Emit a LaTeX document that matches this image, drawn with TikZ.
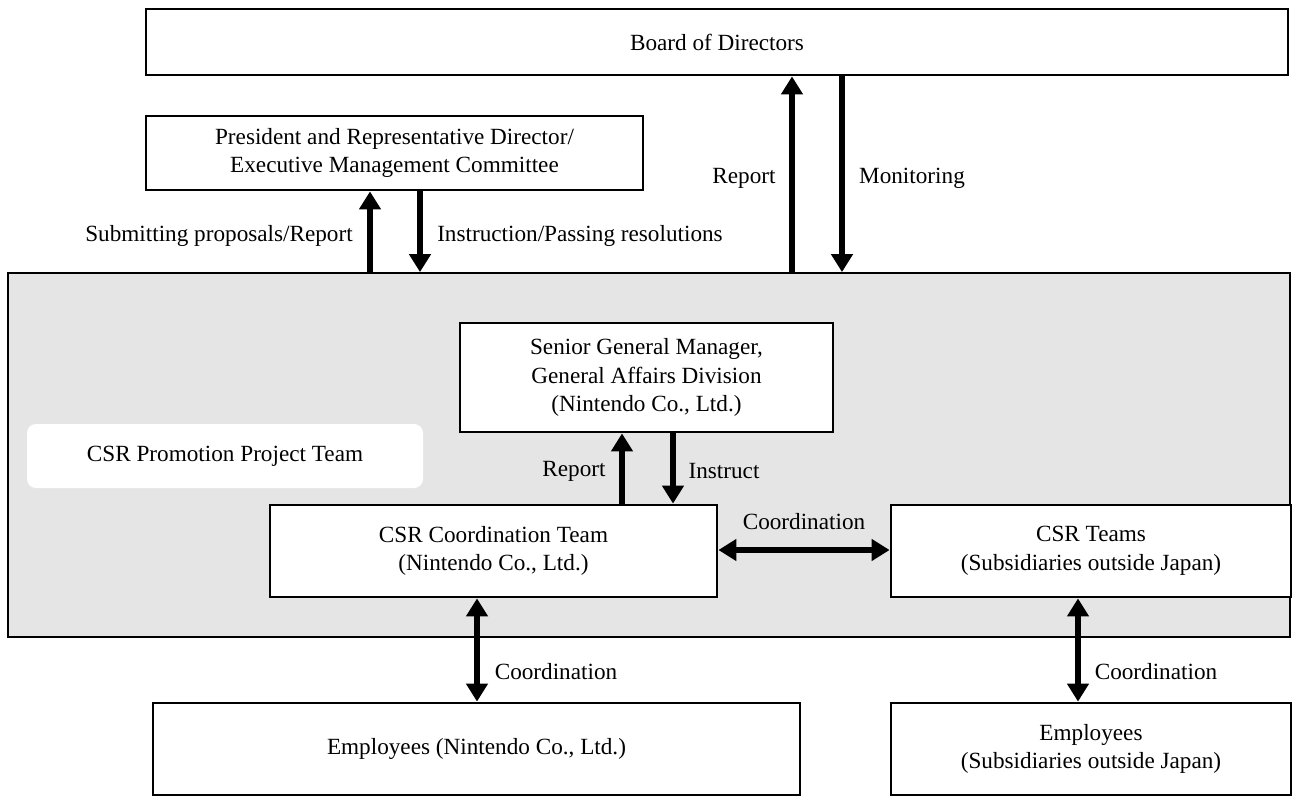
\documentclass[tikz,border=0pt]{standalone}
\usepackage{fontspec}
\setmainfont{Liberation Serif}
\usetikzlibrary{arrows.meta}
\begin{document}
\begin{tikzpicture}[x=1pt,y=-1pt,
  box/.style={draw=black,line width=2.8pt,fill=white,align=center,inner sep=0pt,font=\fontsize{23.2}{28.5}\selectfont},
  lbl/.style={font=\fontsize{23.2}{28.5}\selectfont,inner sep=0pt},
  arr/.style={line width=5.5pt,-{Triangle[width=21pt,length=18pt]}},
  darr/.style={line width=5.5pt,{Triangle[width=21pt,length=18pt]}-{Triangle[width=21pt,length=18pt]}}]
\useasboundingbox (0,0) rectangle (1298,807);
\fill[white] (0,0) rectangle (1298,807);
\node[draw=black,line width=1.8pt,fill=black!10,minimum width=1282pt,minimum height=364pt,inner sep=0pt] (gray) at (649,455) {};
\node[box,minimum width=1142pt,minimum height=66pt] (bod) at (717,42) {\raisebox{-2pt}{Board of Directors}};
\node[box,minimum width=497pt,minimum height=74pt] (pres) at (394.5,153) {President and Representative Director/\\Executive Management Committee};
\node[box,minimum width=373pt,minimum height=109pt] (sgm) at (646.5,377.5) {Senior General Manager,\\General Affairs Division\\(Nintendo Co., Ltd.)};
\node[fill=white,rounded corners=9pt,minimum width=396pt,minimum height=64pt,inner sep=0pt,font=\fontsize{23.2}{28.5}\selectfont] (ppt) at (225,456) {\raisebox{-2pt}{CSR Promotion Project Team}};
\node[box,minimum width=447pt,minimum height=92pt] (ct) at (493.5,551) {CSR Coordination Team\\(Nintendo Co., Ltd.)};
\node[box,minimum width=400pt,minimum height=92pt] (st) at (1091,551) {CSR Teams\\(Subsidiaries outside Japan)};
\node[box,minimum width=647pt,minimum height=92pt] (en) at (476.5,749) {\raisebox{-2pt}{Employees (Nintendo Co., Ltd.)}};
\node[box,minimum width=400pt,minimum height=92pt] (es) at (1091,749) {Employees\\(Subsidiaries outside Japan)};
\coordinate (xa) at (792,0);
\coordinate (xb) at (842,0);
\coordinate (xc) at (370,0);
\coordinate (xd) at (420,0);
\coordinate (xe) at (622,0);
\coordinate (xf) at (673,0);
\coordinate (xg) at (477,0);
\coordinate (xh) at (1078,0);
\coordinate (ya) at (0,550);
\draw[arr] (xa |- gray.north) -- (xa |- bod.south);
\draw[arr] (xb |- bod.south) -- (xb |- gray.north);
\draw[arr] (xc |- gray.north) -- (xc |- pres.south);
\draw[arr] (xd |- pres.south) -- (xd |- gray.north);
\draw[arr] (xe |- ct.north) -- (xe |- sgm.south);
\draw[arr] (xf |- sgm.south) -- (xf |- ct.north);
\draw[darr] (ct.east |- ya) -- (st.west |- ya);
\draw[darr] (xg |- ct.south) -- (xg |- en.north);
\draw[darr] (xh |- st.south) -- (xh |- es.north);
\node[lbl] (l1) at (744,178) {Report};
\node[lbl] (l2) at (912,178) {Monitoring};
\node[lbl] (l3) at (219,236) {Submitting proposals/Report};
\node[lbl] (l4) at (580,236) {Instruction/Passing resolutions};
\node[lbl] (l5) at (574,471) {Report};
\node[lbl] (l6) at (724,471) {Instruct};
\node[lbl] (l7) at (804,522) {Coordination};
\node[lbl] (l8) at (556,672) {Coordination};
\node[lbl] (l9) at (1156,672) {Coordination};
\end{tikzpicture}
\end{document}
